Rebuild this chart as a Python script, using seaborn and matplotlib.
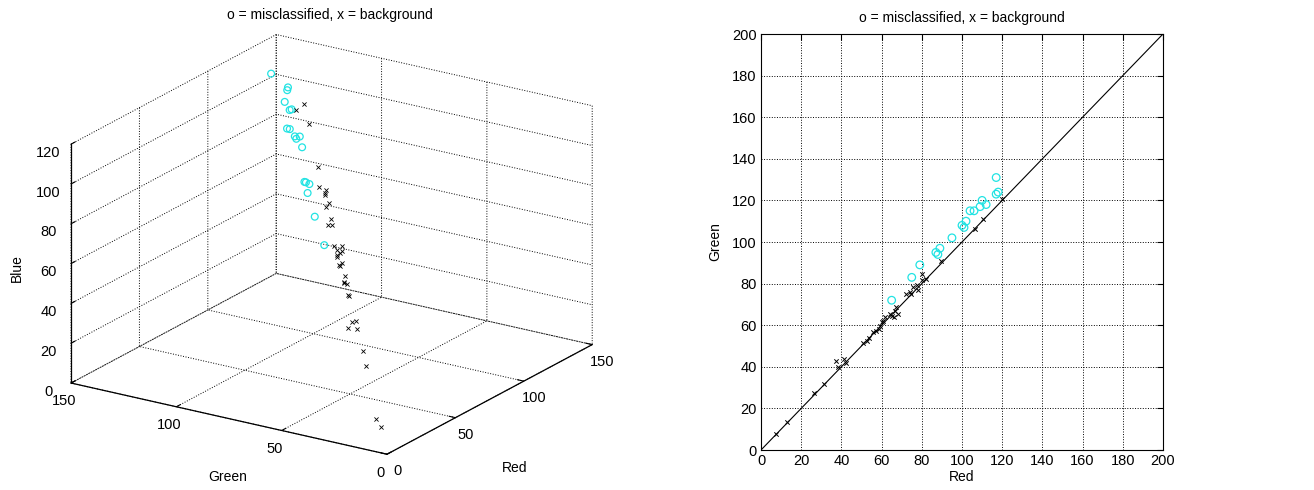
import matplotlib
matplotlib.use("Agg")
import matplotlib.pyplot as plt
import seaborn as sns
import numpy as np

# Misclassified pixels (RGB)
mis_red   = [65, 75, 79, 87, 88, 89, 95, 100, 101, 102, 104, 106, 109, 110, 112, 117, 117, 118]
mis_green = [72, 83, 89, 95, 94, 97, 102, 108, 107, 110, 115, 115, 117, 120, 118, 131, 123, 124]
mis_blue  = [64, 72, 81, 82, 81, 81, 95, 96, 97, 96, 98, 97, 105, 108, 104, 117, 112, 110]

# Background pixels (RGB)
bg_red   = [7.5, 12.7, 26.4, 31.2, 37.5, 38.4, 41.5, 42.2, 50.5, 52.8, 53.8, 55.7, 57.3,
            58.9, 59.3, 60.4, 60.9, 61.6, 64.4, 65.2, 66.0, 66.8, 67.2, 68.0, 72.3, 74.2,
            74.8, 75.5, 77.5, 78.3, 79.9, 80.2, 82.3, 89.7, 106.6, 110.3, 119.8]
bg_green = [7.5, 13.5, 27.2, 31.7, 42.9, 39.7, 43.7, 41.8, 51.3, 52.2, 53.9, 56.6, 57.4,
            58.2, 59.8, 61.4, 62.2, 63.8, 65.4, 64.6, 64.1, 67.0, 68.6, 65.5, 75.1, 75.9,
            75.1, 78.3, 79.1, 77.0, 84.4, 81.5, 82.3, 90.8, 106.4, 110.9, 120.9]
bg_blue  = [9, 10, 28, 33, 39.5, 43.6, 41, 37.5, 49.4, 47.5, 53, 52, 52,
            54, 60, 57.6, 58, 61, 61, 61.7, 62.4, 62.2, 63.4, 63.8, 70.5, 81,
            73, 84.7, 76.8, 67.8, 84.7, 81.4, 83, 89.6, 101.4, 108.8, 100]

# Identity reference line
diag = [0, 200]

title = "o = misclassified, x = background"
cyan = "#22e3e3"

sns.set_style("white")
plt.rcParams.update({
    "grid.color": "k",
    "grid.linestyle": ":",
    "grid.linewidth": 0.7,
    "axes.edgecolor": "k",
    "axes.linewidth": 0.8,
    "xtick.color": "k",
    "ytick.color": "k",
    "text.color": "k",
    "axes.labelcolor": "k",
})
plt.rcParams["font.family"] = ["Liberation Sans Narrow", "Liberation Sans", "DejaVu Sans"]

W, H = 1314, 490
fig = plt.figure(figsize=(W / 100, H / 100), dpi=100)

# ---------------- left: 3-D scatter ----------------
ax1 = fig.add_axes([75 / W, -6 / H, 500 / W, 1.0], projection="3d")
ax1.scatter(bg_red, bg_green, bg_blue, marker="x", c="k", s=9, linewidths=0.6,
            depthshade=False)
ax1.scatter(mis_red, mis_green, mis_blue, marker="o", facecolors="none",
            edgecolors=cyan, s=24, linewidths=0.9, depthshade=False)
ax1.set_xlim(0, 150)
ax1.set_ylim(0, 150)
ax1.set_zlim(0, 120)
ax1.set_xticks([0, 50, 100, 150])
ax1.set_yticks([0, 50, 100, 150])
ax1.set_zticks(np.arange(0, 121, 20))
ax1.set_proj_type("ortho")
ax1.view_init(elev=20.3, azim=-147)
ax1.set_box_aspect((1, 1, 0.676), zoom=1.17)
for axis in (ax1.xaxis, ax1.yaxis, ax1.zaxis):
    axis.set_pane_color((1, 1, 1, 0))
    axis.pane.set_edgecolor("none")
    axis.line.set_color("k")
    axis.line.set_linewidth(0.9)
    axis._axinfo["grid"].update(color="k", linestyle=":", linewidth=0.7)
    axis._axinfo["tick"].update(inward_factor=0.0, outward_factor=0.25)
ax1.tick_params(labelsize=10.5)
ax1.xaxis.set_tick_params(pad=-2)
ax1.yaxis.set_tick_params(pad=-2)
ax1.zaxis.set_tick_params(pad=0)
ax1.set_xlabel("")
ax1.set_ylabel("")
ax1.set_zlabel("")
fig.text(330 / W, 1 - 15 / H, title, ha="center", va="center", fontsize=10)
fig.text(228 / W, 1 - 477 / H, "Green", ha="center", va="center", fontsize=10)
fig.text(515 / W, 1 - 468 / H, "Red", ha="center", va="center", fontsize=10)
fig.text(17 / W, 1 - 268 / H, "Blue", ha="center", va="center", fontsize=10,
         rotation=90)

# ---------------- right: Red vs Green ----------------
ax2 = fig.add_axes([761 / W, 40 / H, 402 / W, 416 / H])
sns.lineplot(x=diag, y=diag, ax=ax2, color="k", linewidth=0.8)
sns.scatterplot(x=bg_red, y=bg_green, ax=ax2, marker="x", color="k", s=10,
                linewidth=0.7)
sns.scatterplot(x=mis_red, y=mis_green, ax=ax2, marker="o", color=cyan,
                facecolors="none", edgecolor=cyan, s=30, linewidth=0.9)
ax2.set_xlim(0, 200)
ax2.set_ylim(0, 200)
ax2.set_xticks(np.arange(0, 201, 20))
ax2.set_yticks(np.arange(0, 201, 20))
ax2.grid(True, color="k", linestyle=":", linewidth=0.7)
ax2.tick_params(direction="in", top=True, right=True, length=4, labelsize=10.5,
                width=0.8, pad=3)
for sp in ax2.spines.values():
    sp.set_visible(True)
    sp.set_color("k")
ax2.set_xlabel("Red", fontsize=10, labelpad=1)
ax2.set_ylabel("Green", fontsize=10, labelpad=7)
ax2.set_title(title, fontsize=10, pad=9)

fig.savefig("out.png", dpi=100)
